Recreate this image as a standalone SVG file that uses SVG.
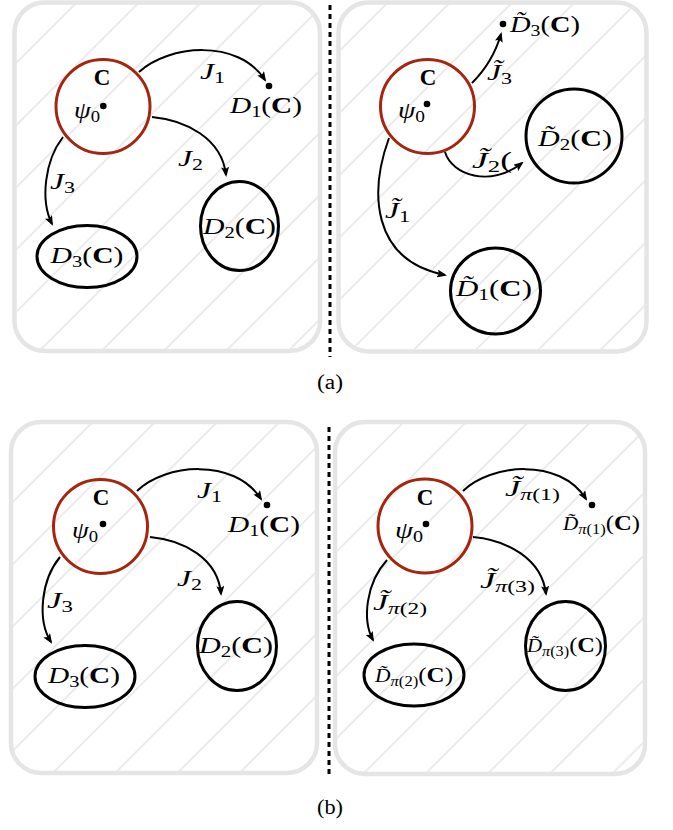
<svg xmlns="http://www.w3.org/2000/svg" width="673" height="830" viewBox="0 0 673 830">
<style>
.panel{fill:url(#hatch);stroke:#e5e5e5;stroke-width:4.5}
.red{fill:none;stroke:#a5260f;stroke-width:3}
.reg{fill:none;stroke:#000;stroke-width:3}
.dot{fill:#000}
.conn{fill:none;stroke:#000;stroke-width:2;marker-end:url(#arr)}
text{font-family:"Liberation Serif","Times New Roman",serif;fill:#000;font-size:23px}
.b{font-weight:bold}
.i{font-style:italic}
.s{font-size:16px}
.ss{font-size:14px}
.cap{font-size:20px}
.sep{stroke:#000;stroke-width:3;stroke-dasharray:5 4}
</style>
<defs>
<pattern id="hatch" patternUnits="userSpaceOnUse" width="10" height="44" patternTransform="rotate(-45) translate(0,-10)">
<rect width="10" height="44" fill="#fff"/>
<line x1="-1" y1="22" x2="11" y2="22" stroke="#dedede" stroke-width="1.2"/>
</pattern>
<marker id="arr" viewBox="0 0 10 8" refX="8" refY="4" markerWidth="10" markerHeight="8" markerUnits="userSpaceOnUse" orient="auto">
<path d="M0,0 L10,4 L0,8 L2,4 z" fill="#000"/>
</marker>
</defs>

<g id="panels">
<rect class="panel" x="14.5" y="2.5" width="305.5" height="348.5" rx="30"/>
<rect class="panel" x="338.5" y="2.5" width="308" height="349" rx="30"/>
<rect class="panel" x="11" y="422" width="306" height="351" rx="30"/>
<rect class="panel" x="335" y="422" width="310" height="352" rx="30"/>
</g>

<g id="separators">
<line class="sep" x1="330" y1="5" x2="330" y2="357"/>
<line class="sep" x1="329" y1="427" x2="329" y2="776"/>
</g>

<g id="connectors">
<path class="conn" d="M139,72 C168,45 238,38 265,80"/>
<path class="conn" d="M152,117 C185,120 222,138 226,175"/>
<path class="conn" d="M63,137 C45,160 40,200 52,224"/>

<path class="conn" d="M472,83 C485,70 495,55 501,34"/>
<path class="conn" d="M445,152 C452,175 490,188 522,163"/>
<path class="conn" d="M389,138 C370,190 370,260 445,275"/>

<path class="conn" d="M137,491 C164,464 234,457 261,499"/>
<path class="conn" d="M150,537 C183,540 218,558 221,594"/>
<path class="conn" d="M60,557 C41,580 37,620 51,642"/>

<path class="conn" d="M463,491 C490,464 560,457 586,499"/>
<path class="conn" d="M473,537 C506,540 542,558 546,594"/>
<path class="conn" d="M387,560 C366,583 362,620 373,640"/>
</g>

<!-- Panel a-left -->
<g id="aL-C">
<circle class="red" cx="103" cy="106.5" r="47"/>
<text class="b" x="102" y="85" text-anchor="middle">C</text>
<circle class="dot" cx="103.3" cy="106" r="3.3"/>
<text x="74" y="118" textLength="26" lengthAdjust="spacingAndGlyphs"><tspan class="i">ψ</tspan><tspan class="s" dy="4">0</tspan></text>
</g>
<g id="aL-D1">
<circle class="dot" cx="269" cy="86" r="3.3"/>
<text x="230" y="113" textLength="72" lengthAdjust="spacingAndGlyphs"><tspan class="i">D</tspan><tspan class="s" dy="4">1</tspan><tspan dy="-4">(</tspan><tspan class="b">C</tspan>)</text>
</g>
<g id="aL-D2">
<ellipse class="reg" cx="239.5" cy="226" rx="39" ry="44.5"/>
<text x="239.5" y="234" text-anchor="middle" textLength="73" lengthAdjust="spacingAndGlyphs"><tspan class="i">D</tspan><tspan class="s" dy="4">2</tspan><tspan dy="-4">(</tspan><tspan class="b">C</tspan>)</text>
</g>
<g id="aL-D3">
<ellipse class="reg" cx="87" cy="256.5" rx="50" ry="31"/>
<text x="87" y="263" text-anchor="middle" textLength="73" lengthAdjust="spacingAndGlyphs"><tspan class="i">D</tspan><tspan class="s" dy="4">3</tspan><tspan dy="-4">(</tspan><tspan class="b">C</tspan>)</text>
</g>
<g id="aL-labels">
<text x="200" y="79" textLength="25" lengthAdjust="spacingAndGlyphs"><tspan class="i">J</tspan><tspan class="s" dy="4">1</tspan></text>
<text x="178" y="166" textLength="25" lengthAdjust="spacingAndGlyphs"><tspan class="i">J</tspan><tspan class="s" dy="4">2</tspan></text>
<text x="50" y="189" textLength="25" lengthAdjust="spacingAndGlyphs"><tspan class="i">J</tspan><tspan class="s" dy="4">3</tspan></text>
</g>

<!-- Panel a-right -->
<g id="aR-C">
<circle class="red" cx="427.5" cy="106.5" r="47"/>
<text class="b" x="428" y="85" text-anchor="middle">C</text>
<circle class="dot" cx="427" cy="104" r="3.3"/>
<text x="398" y="118" textLength="27" lengthAdjust="spacingAndGlyphs"><tspan class="i">ψ</tspan><tspan class="s" dy="4">0</tspan></text>
</g>
<g id="aR-D3">
<circle class="dot" cx="503" cy="24" r="3.3"/>
<text x="510" y="32" textLength="70" lengthAdjust="spacingAndGlyphs"><tspan class="i">D̃</tspan><tspan class="s" dy="4">3</tspan><tspan dy="-4">(</tspan><tspan class="b">C</tspan>)</text>
</g>
<g id="aR-D2">
<ellipse class="reg" cx="574" cy="136" rx="48" ry="47"/>
<text x="575" y="146" text-anchor="middle" textLength="74" lengthAdjust="spacingAndGlyphs"><tspan class="i">D̃</tspan><tspan class="s" dy="4">2</tspan><tspan dy="-4">(</tspan><tspan class="b">C</tspan>)</text>
</g>
<g id="aR-D1">
<ellipse class="reg" cx="495.5" cy="291" rx="45" ry="43"/>
<text x="494" y="296" text-anchor="middle" textLength="76" lengthAdjust="spacingAndGlyphs"><tspan class="i">D̃</tspan><tspan class="s" dy="4">1</tspan><tspan dy="-4">(</tspan><tspan class="b">C</tspan>)</text>
</g>
<g id="aR-labels">
<text x="487" y="80" textLength="25" lengthAdjust="spacingAndGlyphs"><tspan class="i">J̃</tspan><tspan class="s" dy="4">3</tspan></text>
<text x="472" y="168" textLength="40" lengthAdjust="spacingAndGlyphs"><tspan class="i">J̃</tspan><tspan class="s" dy="4">2</tspan><tspan dy="-4">(</tspan></text>
<text x="385" y="218" textLength="25" lengthAdjust="spacingAndGlyphs"><tspan class="i">J̃</tspan><tspan class="s" dy="4">1</tspan></text>
</g>

<text class="cap" x="330" y="389" text-anchor="middle" textLength="26" lengthAdjust="spacingAndGlyphs">(a)</text>

<!-- Panel b-left -->
<g id="bL-C">
<circle class="red" cx="100.5" cy="526.5" r="47"/>
<text class="b" x="101" y="505" text-anchor="middle">C</text>
<circle class="dot" cx="103" cy="524" r="3.3"/>
<text x="72" y="538" textLength="26" lengthAdjust="spacingAndGlyphs"><tspan class="i">ψ</tspan><tspan class="s" dy="4">0</tspan></text>
</g>
<g id="bL-D1">
<circle class="dot" cx="267" cy="505" r="3.3"/>
<text x="228" y="532" textLength="72" lengthAdjust="spacingAndGlyphs"><tspan class="i">D</tspan><tspan class="s" dy="4">1</tspan><tspan dy="-4">(</tspan><tspan class="b">C</tspan>)</text>
</g>
<g id="bL-D2">
<ellipse class="reg" cx="237" cy="646" rx="39.5" ry="44.5"/>
<text x="236" y="653" text-anchor="middle" textLength="74" lengthAdjust="spacingAndGlyphs"><tspan class="i">D</tspan><tspan class="s" dy="4">2</tspan><tspan dy="-4">(</tspan><tspan class="b">C</tspan>)</text>
</g>
<g id="bL-D3">
<ellipse class="reg" cx="85" cy="676.5" rx="50" ry="31"/>
<text x="84" y="683" text-anchor="middle" textLength="72" lengthAdjust="spacingAndGlyphs"><tspan class="i">D</tspan><tspan class="s" dy="4">3</tspan><tspan dy="-4">(</tspan><tspan class="b">C</tspan>)</text>
</g>
<g id="bL-labels">
<text x="197" y="498" textLength="25" lengthAdjust="spacingAndGlyphs"><tspan class="i">J</tspan><tspan class="s" dy="4">1</tspan></text>
<text x="177" y="586" textLength="25" lengthAdjust="spacingAndGlyphs"><tspan class="i">J</tspan><tspan class="s" dy="4">2</tspan></text>
<text x="47" y="608" textLength="26" lengthAdjust="spacingAndGlyphs"><tspan class="i">J</tspan><tspan class="s" dy="4">3</tspan></text>
</g>

<!-- Panel b-right -->
<g id="bR-C">
<circle class="red" cx="425" cy="526" r="47"/>
<text class="b" x="425" y="505" text-anchor="middle">C</text>
<circle class="dot" cx="426" cy="524" r="3.3"/>
<text x="395" y="538" textLength="28" lengthAdjust="spacingAndGlyphs"><tspan class="i">ψ</tspan><tspan class="s" dy="4">0</tspan></text>
</g>
<g id="bR-D1">
<circle class="dot" cx="592" cy="505" r="3.3"/>
<text x="563" y="530" textLength="77" lengthAdjust="spacingAndGlyphs"><tspan class="i" font-size="18">D̃</tspan><tspan class="ss i" dy="4">π</tspan><tspan class="ss">(1)</tspan><tspan dy="-4" font-size="21">(</tspan><tspan class="b" font-size="21">C</tspan><tspan font-size="21">)</tspan></text>
</g>
<g id="bR-D3">
<ellipse class="reg" cx="565.5" cy="646" rx="40" ry="44.5"/>
<text x="527" y="652" textLength="76" lengthAdjust="spacingAndGlyphs"><tspan class="i" font-size="18">D̃</tspan><tspan class="ss i" dy="4">π</tspan><tspan class="ss">(3)</tspan><tspan dy="-4" font-size="21">(</tspan><tspan class="b" font-size="21">C</tspan><tspan font-size="21">)</tspan></text>
</g>
<g id="bR-D2">
<ellipse class="reg" cx="414" cy="675" rx="50" ry="31"/>
<text x="375" y="682" textLength="78" lengthAdjust="spacingAndGlyphs"><tspan class="i" font-size="18">D̃</tspan><tspan class="ss i" dy="4">π</tspan><tspan class="ss">(2)</tspan><tspan dy="-4" font-size="21">(</tspan><tspan class="b" font-size="21">C</tspan><tspan font-size="21">)</tspan></text>
</g>
<g id="bR-labels">
<text x="505" y="496" textLength="55" lengthAdjust="spacingAndGlyphs"><tspan class="i">J̃</tspan><tspan class="s i" dy="4">π</tspan><tspan class="s">(1)</tspan></text>
<text x="480" y="588" textLength="55" lengthAdjust="spacingAndGlyphs"><tspan class="i">J̃</tspan><tspan class="s i" dy="4">π</tspan><tspan class="s">(3)</tspan></text>
<text x="373" y="610" textLength="54" lengthAdjust="spacingAndGlyphs"><tspan class="i">J̃</tspan><tspan class="s i" dy="4">π</tspan><tspan class="s">(2)</tspan></text>
</g>

<text class="cap" x="330" y="814" text-anchor="middle" textLength="26" lengthAdjust="spacingAndGlyphs">(b)</text>
</svg>
